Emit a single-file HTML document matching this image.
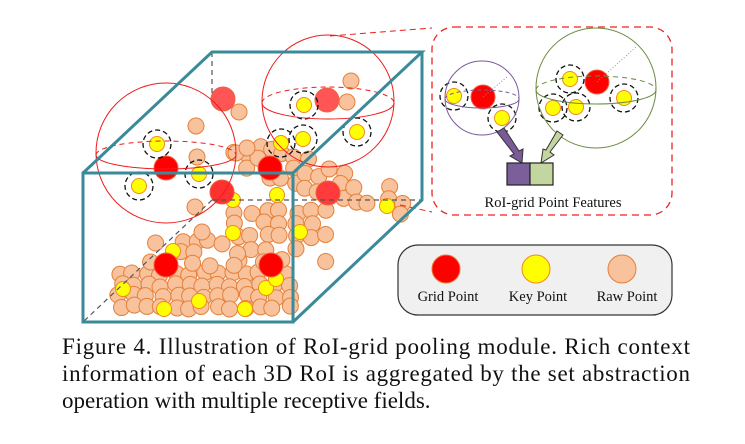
<!DOCTYPE html>
<html><head><meta charset="utf-8"><style>
html,body{margin:0;padding:0;background:#fff;}
svg{display:block;}
</style></head><body>
<svg id="s" width="745" height="444" viewBox="0 0 745 444" xmlns="http://www.w3.org/2000/svg" font-family="Liberation Serif, serif">
<g id="raw" fill="#f7c29c" stroke="#e5803a" stroke-width="1"></g>
<g id="key" fill="#ffff00" stroke="#f08a20" stroke-width="1"></g>
<g id="grid" stroke="#f06040" stroke-width="1"></g>
<g id="dc" fill="none" stroke="#111" stroke-width="1.3" stroke-dasharray="5,3"></g>
<g fill="none" stroke="#ee1c1c" stroke-width="1">
<circle cx="166" cy="153" r="70"/>
<path d="M96,155 A70,14 0 0 0 236,155"/>
<path d="M96,155 A70,14 0 0 1 236,155" stroke-dasharray="5,4"/>
<circle cx="328" cy="101" r="66"/>
<path d="M262,103 A66,16 0 0 0 394,103"/>
<path d="M262,103 A66,16 0 0 1 394,103" stroke-dasharray="5,4"/>
<path d="M330,36 L432,28" stroke-dasharray="6,4"/>
<path d="M400,205 L432,212" stroke-dasharray="6,4"/>
</g>
<g fill="none" stroke="#555" stroke-width="1.2" stroke-dasharray="5,4">
<path d="M212,52 L212,95"/><path d="M212,200 L422,200"/><path d="M212,200 L83,322"/>
</g>
<g fill="none" stroke="#3a8a9a" stroke-width="3">
<rect x="83" y="173" width="210" height="149"/>
<path d="M83,173 L212,52 L422,52 L293,173 M422,52 L422,200 L293,322"/>
</g>
<rect x="432" y="27" width="240" height="188" rx="22" fill="none" stroke="#ee2222" stroke-width="1.3" stroke-dasharray="7,5"/>
<g fill="none" stroke-width="1">
<circle cx="482" cy="98" r="37" stroke="#7a5a9a"/>
<path d="M445,99 A37,9 0 0 0 519,99" stroke="#7a5a9a"/>
<path d="M445,99 A37,9 0 0 1 519,99" stroke="#7a5a9a" stroke-dasharray="4,3"/>
<circle cx="596" cy="88" r="60" stroke="#6a8a40"/>
<path d="M536,90 A60,14 0 0 0 656,90" stroke="#6a8a40"/>
<path d="M536,90 A60,14 0 0 1 656,90" stroke="#6a8a40" stroke-dasharray="5,4"/>
<path d="M483,97 L508,76" stroke="#9a7ab0" stroke-dasharray="1,2"/>
<path d="M597,82 L636,47" stroke="#90a070" stroke-dasharray="1,2"/>
</g>
<polygon points="497,132 504,128 519,151 523,149 522,163 510,156 514,154" fill="#7b5a9a" stroke="#333" stroke-width="1"/>
<polygon points="557,131 563,135 550,152 554,155 541,163 543,149 546,150" fill="#c4d6a0" stroke="#333" stroke-width="1"/>
<rect x="507" y="163" width="23" height="22" fill="#7b5f9b" stroke="#222" stroke-width="1.2"/>
<rect x="530" y="163" width="23" height="22" fill="#c4d6a0" stroke="#222" stroke-width="1.2"/>
<text x="553" y="207" font-size="14.5" text-anchor="middle" fill="#111">RoI-grid Point Features</text>
<rect x="398" y="245" width="274" height="70" rx="20" fill="#f0f0f0" stroke="#333" stroke-width="1.2"/>
<circle cx="446" cy="269" r="14" fill="#ff0000" stroke="#f07030"/>
<circle cx="536" cy="269" r="14" fill="#ffff00" stroke="#f08a20"/>
<circle cx="622" cy="269" r="14" fill="#f7c29c" stroke="#e5803a"/>
<text x="448" y="301" font-size="14.5" text-anchor="middle" fill="#111">Grid Point</text>
<text x="538" y="301" font-size="14.5" text-anchor="middle" fill="#111">Key Point</text>
<text x="627" y="301" font-size="14.5" text-anchor="middle" fill="#111">Raw Point</text>
<g font-size="23" fill="#111">
<text x="62" y="354" textLength="628" lengthAdjust="spacing">Figure 4. Illustration of RoI-grid pooling module.  Rich context</text>
<text x="62" y="381" textLength="628" lengthAdjust="spacing">information of each 3D RoI is aggregated by the set abstraction</text>
<text x="62" y="408">operation with multiple receptive fields.</text>
</g>
</svg>
<script>
var NS="http://www.w3.org/2000/svg";
function c(g,x,y,r,f){var e=document.createElementNS(NS,"circle");e.setAttribute("cx",x);e.setAttribute("cy",y);e.setAttribute("r",r);if(f)e.setAttribute("fill",f);document.getElementById(g).appendChild(e);}
var seed=7;function rnd(){seed=(seed*9301+49297)%233280;return seed/233280;}
for(var y=274;y<=314;y+=11)for(var x=120;x<=290;x+=14){c("raw",x+rnd()*6-3,y+rnd()*4-2,8);}
for(var y=212;y<=262;y+=12)for(var x=236;x<=330;x+=15){if(rnd()<0.7)c("raw",x+rnd()*6-3,y+rnd()*4-2,8);}
for(var x=232;x<=405;x+=12){var b=150+(x-232)*0.3;for(var k=-1;k<=1;k++){if(rnd()<0.6)c("raw",x+rnd()*5,b+k*13+rnd()*5,8);}}
for(var y=240;y<=270;y+=11)for(var x=150;x<=240;x+=14){if(rnd()<0.5)c("raw",x+rnd()*6,y+rnd()*4,8);}
[[196,126],[239,112],[351,81],[347,102],[195,207],[202,232],[197,157],[236,153],[247,148]].forEach(function(p){c("raw",p[0],p[1],8);});
var keys=[[157,144],[199,174],[139,186],[304,105],[281,143],[303,139],[357,132],[277,195],[233,200],[387,206],[233,233],[300,232],[173,251],[123,289],[199,301],[164,309],[245,309],[266,288],[276,279],
[454,96],[502,118],[570,79],[553,108],[576,107],[624,98]];
keys.forEach(function(p){c("key",p[0],p[1],7.5);});
[[157,144],[199,174],[139,186],[304,105],[281,143],[303,139],[357,132],[454,96],[502,118],[570,79],[553,108],[576,107],[624,98]].forEach(function(p){c("dc",p[0],p[1],14);});
[[166,168,"#ff0000"],[222,192,"#ff3030"],[270,168,"#ff0000"],[223,99,"#ff5555"],[327,100,"#ff5555"],[328,193,"#ff3a3a"],[166,265,"#ff0000"],[271,265,"#ff0000"],[483,97,"#ff0000"],[597,82,"#ff0000"]].forEach(function(p){c("grid",p[0],p[1],12,p[2]);});
</script>
</body></html>
